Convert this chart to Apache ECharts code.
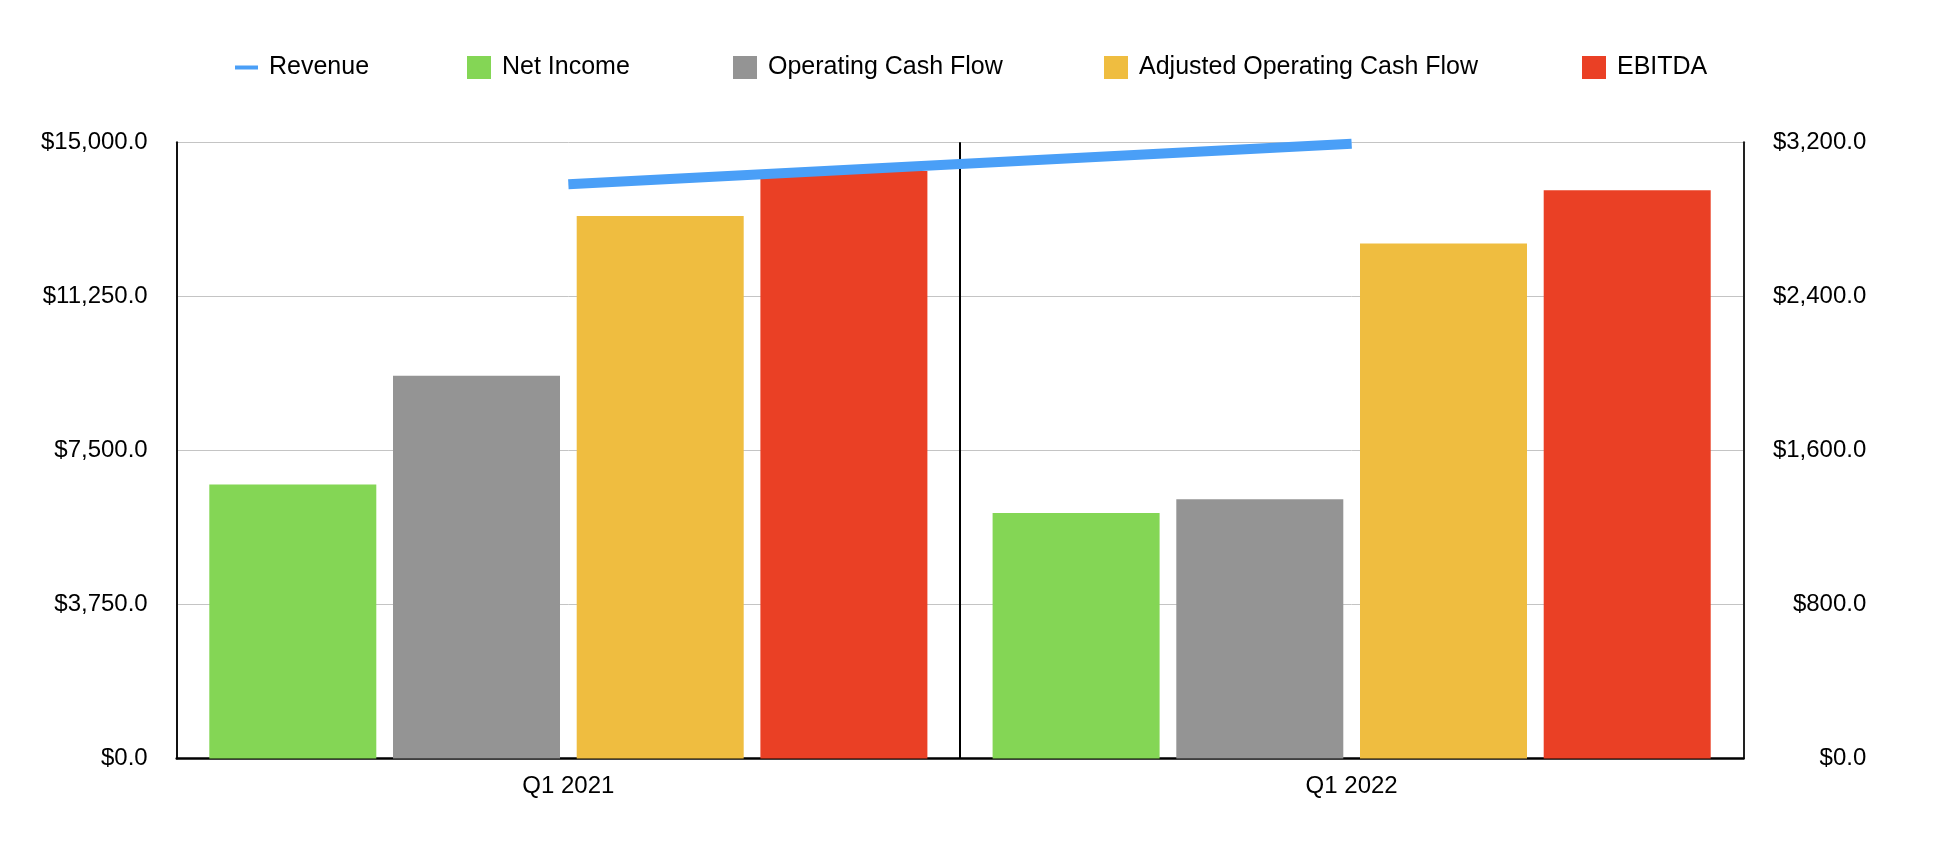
<!DOCTYPE html>
<html>
<head>
<meta charset="utf-8">
<script src="https://cdn.jsdelivr.net/npm/echarts@6/dist/echarts.min.js"></script>
<style>
html,body{margin:0;padding:0;background:#fff;}
#chart{width:1938px;height:868px;}
</style>
</head>
<body>
<div id="chart"></div>
<script>
const categories = ['Q1 2021', 'Q1 2022'];
const revenue = [2982, 3192];
const netIncome = [6670, 5976];
const operatingCashFlow = [9318, 6310];
const adjustedOperatingCashFlow = [13206, 12537];
const ebitda = [14300, 13831];
const leftTicks = { min: 0, max: 15000, interval: 3750 };
const rightTicks = { min: 0, max: 3200, interval: 800 };

const FONT = "'Liberation Sans', Arial, Helvetica, sans-serif";
const colors = {
  rev: '#4A9FF7', ni: '#84D655', ocf: '#949494', aocf: '#EFBD40', ebitda: '#EA4025'
};
const fmt = v => '$' + Number(v).toLocaleString('en-US', {minimumFractionDigits: 1, maximumFractionDigits: 1});

function legendFor(name, left, opts) {
  return Object.assign({
    data: [name],
    left: left,
    top: 50,
    itemWidth: 24,
    itemHeight: 23,
    icon: 'rect',
    selectedMode: false,
    textStyle: { fontFamily: FONT, fontSize: 25, color: '#000', padding: [0, 0, 0, 6] }
  }, opts || {});
}

const chart = echarts.init(document.getElementById('chart'), null, { renderer: 'canvas' });
chart.setOption({
  animation: false,
  backgroundColor: '#fff',
  legend: [
    legendFor('Revenue', 230, { itemHeight: 4, itemWidth: 23 }),
    legendFor('Net Income', 462),
    legendFor('Operating Cash Flow', 728),
    legendFor('Adjusted Operating Cash Flow', 1099),
    legendFor('EBITDA', 1577)
  ],
  grid: { left: 176.7, right: 194.7, top: 142.3, bottom: 109.5, containLabel: false },
  xAxis: {
    type: 'category',
    data: categories,
    boundaryGap: true,
    axisLine: { show: true, lineStyle: { color: '#000', width: 2.5 } },
    axisTick: { show: false },
    splitLine: { show: true, lineStyle: { color: '#000', width: 2 } },
    axisLabel: { fontFamily: FONT, fontSize: 24, color: '#000', margin: 16 }
  },
  yAxis: [
    {
      type: 'value', min: leftTicks.min, max: leftTicks.max, interval: leftTicks.interval,
      axisLine: { show: true, lineStyle: { color: '#111', width: 2 } },
      axisTick: { show: false },
      splitLine: { show: true, lineStyle: { color: '#c4c4c4', width: 1 } },
      axisLabel: { fontFamily: FONT, fontSize: 24, color: '#000', margin: 29, padding: [8, 0, 0, 0], formatter: fmt }
    },
    {
      type: 'value', min: rightTicks.min, max: rightTicks.max, interval: rightTicks.interval,
      axisLine: { show: true, lineStyle: { color: '#222', width: 2 } },
      axisTick: { show: false },
      splitLine: { show: false },
      axisLabel: { fontFamily: FONT, fontSize: 24, color: '#000', margin: 123, align: 'right', padding: [8, 0, 0, 0], formatter: fmt }
    }
  ],
  series: [
    { name: 'Net Income', type: 'bar', data: netIncome, barWidth: 167, barGap: '10%', itemStyle: { color: colors.ni } },
    { name: 'Operating Cash Flow', type: 'bar', data: operatingCashFlow, barWidth: 167, barGap: '10%', itemStyle: { color: colors.ocf } },
    { name: 'Adjusted Operating Cash Flow', type: 'bar', data: adjustedOperatingCashFlow, barWidth: 167, barGap: '10%', itemStyle: { color: colors.aocf } },
    { name: 'EBITDA', type: 'bar', data: ebitda, barWidth: 167, barGap: '10%', itemStyle: { color: colors.ebitda } },
    { name: 'Revenue', type: 'line', yAxisIndex: 1, data: revenue, symbol: 'none', z: 5,
      lineStyle: { color: colors.rev, width: 10, cap: 'butt' }, itemStyle: { color: colors.rev } }
  ]
});
</script>
</body>
</html>
